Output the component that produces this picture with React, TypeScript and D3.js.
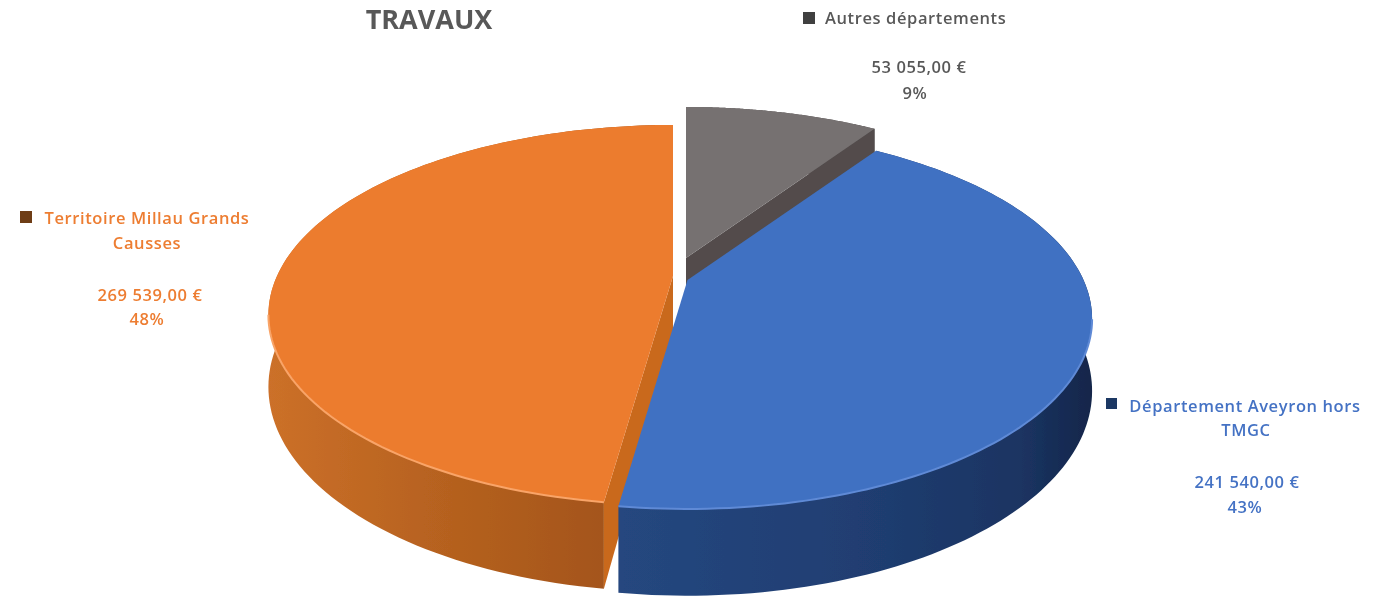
import React from "react";
import * as d3 from "d3";

const categories = ["Autres départements", "Département Aveyron hors TMGC", "Territoire Millau Grands Causses"];
const values = [53055, 241540, 269539];
const amountLabels = ["53 055,00 €", "241 540,00 €", "269 539,00 €"];
const percentLabels = ["9%", "43%", "48%"];

const W = 1393, H = 598;
const RX = 396, RY = 182, PERSP = 0.205, DEPTH = 69;
const apexes = [[686, 258], [687.5, 280], [673, 276]];
const topColors = ["#767171", "#4071C2", "#EC7C2E"];
const cutColors = ["#524C4C", "#2A4F8F", "#C9691F"];
const rimColors = ["#8a8585", "#5F8AD6", "#F9A467"];
const textColors = ["#595959", "#4472C4", "#ED7D31"];
const markColors = ["#3F3F3F", "#1F3864", "#6E3C16"];

const arcs = d3.pie<number>().sort(null).value((d) => d)(values);
const line = d3.line();

function project(i: number, theta: number, r = 1, lower = false): [number, number] {
  const u = r * Math.sin(theta), v = r * Math.cos(theta);
  const w = 1 + PERSP * v;
  const [ax, ay] = apexes[i];
  return [ax + (RX * u) / w, ay - (RY * v) / w + (lower ? DEPTH / w : 0)];
}
const rim = (i: number, lower = false) => {
  const a = arcs[i].startAngle, b = arcs[i].endAngle;
  return d3.range(0, 121).map((k) => project(i, a + ((b - a) * k) / 120, 1, lower));
};
const topPath = (i: number) => line([project(i, 0, 0), ...rim(i), project(i, 0, 0)]) + "Z";
const wallPath = (i: number) => line([...rim(i), ...rim(i, true).reverse()]) + "Z";
const cutPath = (i: number, theta: number) =>
  line([project(i, theta, 0), project(i, theta, 1), project(i, theta, 1, true), project(i, theta, 0, true)]) + "Z";
const frontRim = (i: number) => line(rim(i).filter((p) => p[1] > apexes[i][1] + 35));

type L = { t: string; x: number; y: number; anchor?: string };
const labelBlocks: { i: number; mark: [number, number, number]; lines: L[] }[] = [
  { i: 0, mark: [803, 12, 12], lines: [
    { t: categories[0], x: 825, y: 24, anchor: "start" },
    { t: amountLabels[0], x: 919, y: 73 },
    { t: percentLabels[0], x: 915, y: 99 } ] },
  { i: 2, mark: [20, 211, 12], lines: [
    { t: "Territoire Millau Grands", x: 147, y: 224 },
    { t: "Causses", x: 147, y: 249 },
    { t: amountLabels[2], x: 150, y: 301 },
    { t: percentLabels[2], x: 147, y: 325 } ] },
  { i: 1, mark: [1106, 398, 11], lines: [
    { t: "Département Aveyron hors", x: 1245, y: 412 },
    { t: "TMGC", x: 1246, y: 436 },
    { t: amountLabels[1], x: 1247, y: 488 },
    { t: percentLabels[1], x: 1245, y: 513 } ] },
];

const drawOrder = [0, 2, 1];

export default function App() {
  return (
    <svg width={W} height={H} style={{ position: "absolute", left: 0, top: 0, background: "#fff" }}>
      <defs>
        <filter id="soft" x="-5%" y="-5%" width="110%" height="110%"><feGaussianBlur stdDeviation="0.7" /></filter>
        <filter id="softText" x="-10%" y="-30%" width="120%" height="160%"><feGaussianBlur stdDeviation="0.55" /></filter>
        <linearGradient id="wall2" gradientUnits="userSpaceOnUse" x1="267" x2="615" y1="0" y2="0">
          <stop offset="0" stopColor="#CC7029" />
          <stop offset="0.45" stopColor="#B86320" />
          <stop offset="1" stopColor="#A3541A" />
        </linearGradient>
        <linearGradient id="wall1" gradientUnits="userSpaceOnUse" x1="620" x2="1092" y1="0" y2="0">
          <stop offset="0" stopColor="#25477F" />
          <stop offset="0.5" stopColor="#203E72" />
          <stop offset="0.85" stopColor="#1B3462" />
          <stop offset="1" stopColor="#12264A" />
        </linearGradient>
        <linearGradient id="wall0" gradientUnits="userSpaceOnUse" x1="686" x2="880" y1="0" y2="0">
          <stop offset="0" stopColor="#524C4C" />
          <stop offset="1" stopColor="#524C4C" />
        </linearGradient>
      </defs>
      <g filter="url(#soft)">
        {drawOrder.map((i) => (
          <g key={categories[i]}>
            <path d={wallPath(i)} fill={`url(#wall${i})`} />
            {i === 0 && <path d={cutPath(i, arcs[i].endAngle)} fill={cutColors[i]} />}
            {i === 2 && <path d={cutPath(i, arcs[i].startAngle)} fill={cutColors[i]} />}
            <path d={topPath(i)} fill={topColors[i]} />
            {i !== 0 && <path d={frontRim(i) ?? ""} fill="none" stroke={rimColors[i]} strokeWidth={2} />}
          </g>
        ))}
      </g>
      <g filter="url(#softText)" fontFamily="'Open Sans', sans-serif" fontWeight={600}>
        <text x={429} y={29} textAnchor="middle" fontSize={27} fontWeight={700} fill="#595959">TRAVAUX</text>
        {labelBlocks.map((b) => (
          <g key={b.i} fontSize={16.5} letterSpacing={0.6} fill={textColors[b.i]}>
            <rect x={b.mark[0]} y={b.mark[1]} width={b.mark[2]} height={b.mark[2]} fill={markColors[b.i]} />
            {b.lines.map((l) => (
              <text key={l.t} x={l.x} y={l.y} textAnchor={l.anchor ?? "middle"}>{l.t}</text>
            ))}
          </g>
        ))}
      </g>
    </svg>
  );
}
